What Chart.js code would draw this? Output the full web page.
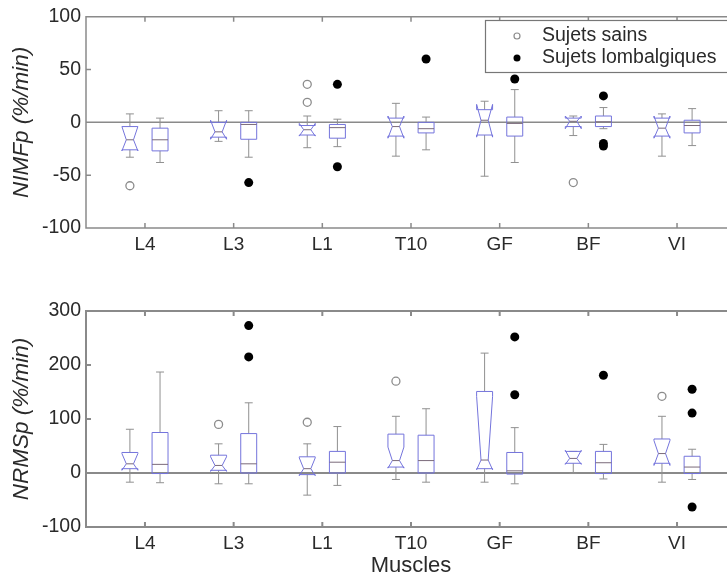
<!DOCTYPE html>
<html>
<head>
<meta charset="utf-8">
<script src="https://cdn.jsdelivr.net/npm/chart.js@4"></script>
<style>
  html, body { margin: 0; padding: 0; background: #fff; overflow: hidden; }
  #cadre { position: relative; width: 727px; height: 579px; overflow: hidden; }
  .panneau { position: absolute; left: 0; width: 745px; }
  #haut { top: 0; height: 290px; }
  #bas { top: 290px; height: 289px; }
</style>
</head>
<body>
<div id="cadre">
  <div class="panneau" id="haut"><canvas id="nimf"></canvas></div>
  <div class="panneau" id="bas"><canvas id="nrms"></canvas></div>
</div>
<script>
// --- Données ---
const muscles = ['L4', 'L3', 'L1', 'T10', 'GF', 'BF', 'VI'];
const groupes = ['Sujets sains', 'Sujets lombalgiques'];

// Boîtes : [moustache basse, Q1, médiane, Q3, moustache haute]
const nimfSains = [[-33, -26, -16.5, -4, 8], [-18, -14, -9, 0, 11], [-24, -12, -7, -3, 6], [-32, -13, -4, 4, 18],
                   [-51, -12, 2, 12, 20], [-12.5, -4, 1, 4, 6], [-32, -13, -5.5, 4, 8]];
const nimfSainsEncoche = [[-27, -4], [-16, 2], [-13, -1], [-15, 6], [-14, 17], [-6, 6], [-15, 6]];
const nimfLomb = [[-38, -27, -16.5, -5.5, 4], [-33, -16, -2, 0, 11], [-23, -15, -5, -2, 3], [-26, -10, -6, 0, 5],
                  [-38, -13, -1, 5, 31], [-6, -4, 0.5, 6, 14], [-22, -10, -3, 2, 13]];
const nimfSainsAtyp = [[-60], [], [36, 19], [], [], [-57], []];
const nimfLombAtyp = [[], [-57], [36, -42], [60], [41], [25, -20, -22.5], []];
const nimfGraduations = [-100, -50, 0, 50, 100];

const nrmsSains = [[-17, 8, 17, 38, 81], [-20, 5, 14, 33, 54], [-41, -3, 8, 30, 54], [-12, 11, 23, 72, 105],
                   [-17, 8, 24, 151, 222], [-1, 18, 27, 40, 40], [-17, 18, 36, 63, 105]];
const nrmsSainsEncoche = [[5, 36], [3, 30], [-5, 28], [9, 48], [6, 142], [16, 42], [14, 60]];
const nrmsLomb = [[-18, -1, 16, 75, 187], [-20, 0, 17, 73, 130], [-23, 0, 20, 40, 86], [-17, 0, 23, 70, 119],
                  [-20, -2, 4, 38, 84], [-11, -1, 19, 40, 53], [-12, -1, 11, 31, 44]];
const nrmsSainsAtyp = [[], [90], [94], [170], [], [], [142]];
const nrmsLombAtyp = [[], [273, 215], [], [], [252, 145], [181], [155, 111, -63]];
const nrmsGraduations = [-100, 0, 100, 200, 300];

// --- Style ---
const POLICE = 'Liberation Sans, Arial, sans-serif';
const TEXTE = '#2a2a2a';
const AXE = '#8a8a8a';
const BLEU = '#7474dc';
const DECALAGE = 0.17;   // écart de chaque groupe autour du muscle
const DEMI_LARG = 0.09;  // demi-largeur d'une boîte (unités de l'axe x)

function pointsAtypiques(listes, decalage) {
    const pts = [];
    listes.forEach((vals, i) => vals.forEach(v => pts.push({ x: i + 1 + decalage, y: v })));
    return pts;
}

// Boîtes à moustaches dessinées avec les échelles du graphique
const pluginBoites = {
    id: 'boites',
    beforeDatasetsDraw(chart, args, opts) {
        const { ctx } = chart;
        const xs = chart.scales.x, ys = chart.scales.y;
        const dl = xs.getPixelForValue(DEMI_LARG) - xs.getPixelForValue(0);
        ctx.save();
        opts.series.forEach(serie => {
            serie.stats.forEach((s, i) => {
                const cx = xs.getPixelForValue(i + 1 + serie.decalage);
                const [yBas, yQ1, yMed, yQ3, yHaut] = s.map(v => ys.getPixelForValue(v));
                const xl = cx - dl, xr = cx + dl;

                // moustaches
                ctx.strokeStyle = '#909090';
                ctx.lineWidth = 1;
                ctx.beginPath();
                ctx.moveTo(cx, yQ3); ctx.lineTo(cx, yHaut);
                ctx.moveTo(cx - dl / 2, yHaut); ctx.lineTo(cx + dl / 2, yHaut);
                ctx.moveTo(cx, yQ1); ctx.lineTo(cx, yBas);
                ctx.moveTo(cx - dl / 2, yBas); ctx.lineTo(cx + dl / 2, yBas);
                ctx.stroke();

                // boîte (avec encoche pour les sujets sains)
                ctx.strokeStyle = BLEU;
                ctx.beginPath();
                let retrait = 0;
                if (serie.encoche) {
                    const [nb, nh] = serie.encoche[i].map(v => ys.getPixelForValue(v));
                    retrait = dl * 0.55;
                    ctx.moveTo(xl, yQ1); ctx.lineTo(xl, nb); ctx.lineTo(xl + retrait, yMed);
                    ctx.lineTo(xl, nh); ctx.lineTo(xl, yQ3); ctx.lineTo(xr, yQ3);
                    ctx.lineTo(xr, nh); ctx.lineTo(xr - retrait, yMed); ctx.lineTo(xr, nb);
                    ctx.lineTo(xr, yQ1);
                    ctx.closePath();
                } else {
                    ctx.rect(xl, yQ3, xr - xl, yQ1 - yQ3);
                }
                ctx.stroke();

                // médiane
                ctx.strokeStyle = '#7a6a7a';
                ctx.beginPath();
                ctx.moveTo(xl + retrait, yMed); ctx.lineTo(xr - retrait, yMed);
                ctx.stroke();
            });
        });
        ctx.restore();
    }
};

// Cadre, graduations intérieures et ligne du zéro
const pluginCadre = {
    id: 'cadre',
    beforeDatasetsDraw(chart, args, opts) {
        const { ctx, chartArea: a } = chart;
        const xs = chart.scales.x, ys = chart.scales.y;
        ctx.save();
        ctx.strokeStyle = AXE;
        ctx.lineWidth = opts.epaisseur;
        ctx.beginPath();
        const y0 = ys.getPixelForValue(0);
        ctx.moveTo(a.left, y0); ctx.lineTo(a.right, y0);
        ctx.moveTo(a.right, a.top); ctx.lineTo(a.left, a.top);
        ctx.lineTo(a.left, a.bottom); ctx.lineTo(a.right, a.bottom);
        xs.ticks.forEach(t => {
            const x = xs.getPixelForValue(t.value);
            ctx.moveTo(x, a.bottom); ctx.lineTo(x, a.bottom - 5);
            ctx.moveTo(x, a.top); ctx.lineTo(x, a.top + 5);
        });
        ys.ticks.forEach(t => {
            const y = ys.getPixelForValue(t.value);
            ctx.moveTo(a.left, y); ctx.lineTo(a.left + 5, y);
        });
        ctx.stroke();
        ctx.restore();
    }
};

// Légende encadrée en haut à droite
const pluginLegende = {
    id: 'legende',
    afterDatasetsDraw(chart, args, opts) {
        if (!opts.afficher) return;
        const { ctx } = chart;
        ctx.save();
        ctx.fillStyle = '#fff';
        ctx.fillRect(485, 20, 270, 52);
        ctx.strokeStyle = '#777';
        ctx.lineWidth = 1.2;
        ctx.strokeRect(485.5, 20.5, 270, 52);
        ctx.font = '19.5px ' + POLICE;
        ctx.textBaseline = 'middle';
        chart.data.datasets.forEach((ds, i) => {
            const y = 36 + i * 22;
            ctx.beginPath();
            ctx.arc(517, y, i === 0 ? 3 : 3.5, 0, Math.PI * 2);
            if (i === 0) {
                ctx.strokeStyle = ds.borderColor; ctx.lineWidth = 1.2; ctx.stroke();
            } else {
                ctx.fillStyle = ds.backgroundColor; ctx.fill();
            }
            ctx.fillStyle = TEXTE;
            ctx.fillText(ds.label, 542, y);
        });
        ctx.restore();
    }
};

function creerGraphique(id, cfg) {
    return new Chart(document.getElementById(id), {
        type: 'scatter',
        data: {
            datasets: [{
                label: groupes[0],
                data: pointsAtypiques(cfg.sainsAtyp, -DECALAGE),
                pointRadius: 4,
                borderWidth: 1.3,
                borderColor: '#8c8c8c',
                backgroundColor: 'rgba(0,0,0,0)'
            }, {
                label: groupes[1],
                data: pointsAtypiques(cfg.lombAtyp, DECALAGE),
                pointRadius: 4.5,
                borderWidth: 0,
                borderColor: '#000',
                backgroundColor: '#000'
            }]
        },
        options: {
            responsive: true,
            maintainAspectRatio: false,
            animation: false,
            layout: { padding: { top: cfg.hautZone, right: 9, left: 0, bottom: 0 } },
            plugins: {
                legend: { display: false },
                tooltip: { enabled: false },
                boites: {
                    series: [
                        { stats: cfg.sains, encoche: cfg.encoche, decalage: -DECALAGE },
                        { stats: cfg.lomb, decalage: DECALAGE }
                    ]
                },
                cadre: { epaisseur: cfg.epaisseur },
                legende: { afficher: cfg.legende }
            },
            scales: {
                x: {
                    type: 'linear',
                    min: 0.335,
                    max: 7.665,
                    afterBuildTicks: s => { s.ticks = muscles.map((m, i) => ({ value: i + 1 })); },
                    ticks: {
                        callback: v => muscles[v - 1],
                        font: { family: POLICE, size: 19 },
                        color: TEXTE,
                        padding: 5,
                        maxRotation: 0,
                        autoSkip: false
                    },
                    grid: { display: false, drawTicks: false },
                    border: { display: false },
                    title: {
                        display: !!cfg.titreX,
                        text: cfg.titreX || '',
                        font: { family: POLICE, size: 22 },
                        color: TEXTE,
                        padding: 0
                    },
                    afterFit: s => { s.height = cfg.hautAxeX; }
                },
                y: {
                    min: cfg.min,
                    max: cfg.max,
                    afterBuildTicks: s => { s.ticks = cfg.graduations.map(v => ({ value: v })); },
                    ticks: {
                        font: { family: POLICE, size: 19.5 },
                        color: TEXTE,
                        padding: 5
                    },
                    grid: { display: false, drawTicks: false },
                    border: { display: false },
                    title: {
                        display: true,
                        text: cfg.titreY,
                        font: { family: POLICE, size: 22.5, style: 'italic' },
                        color: TEXTE,
                        padding: { top: 8, bottom: 0 }
                    },
                    afterFit: s => { s.width = 86; }
                }
            }
        },
        plugins: [pluginCadre, pluginBoites, pluginLegende]
    });
}

creerGraphique('nimf', {
    sains: nimfSains, encoche: nimfSainsEncoche, lomb: nimfLomb,
    sainsAtyp: nimfSainsAtyp, lombAtyp: nimfLombAtyp,
    graduations: nimfGraduations, min: -100, max: 100,
    titreY: 'NIMFp (%/min)', hautZone: 14, hautAxeX: 62,
    epaisseur: 1.5, legende: true
});

creerGraphique('nrms', {
    sains: nrmsSains, encoche: nrmsSainsEncoche, lomb: nrmsLomb,
    sainsAtyp: nrmsSainsAtyp, lombAtyp: nrmsLombAtyp,
    graduations: nrmsGraduations, min: -100, max: 300,
    titreY: 'NRMSp (%/min)', titreX: 'Muscles', hautZone: 21, hautAxeX: 52,
    epaisseur: 2, legende: false
});
</script>
</body>
</html>
